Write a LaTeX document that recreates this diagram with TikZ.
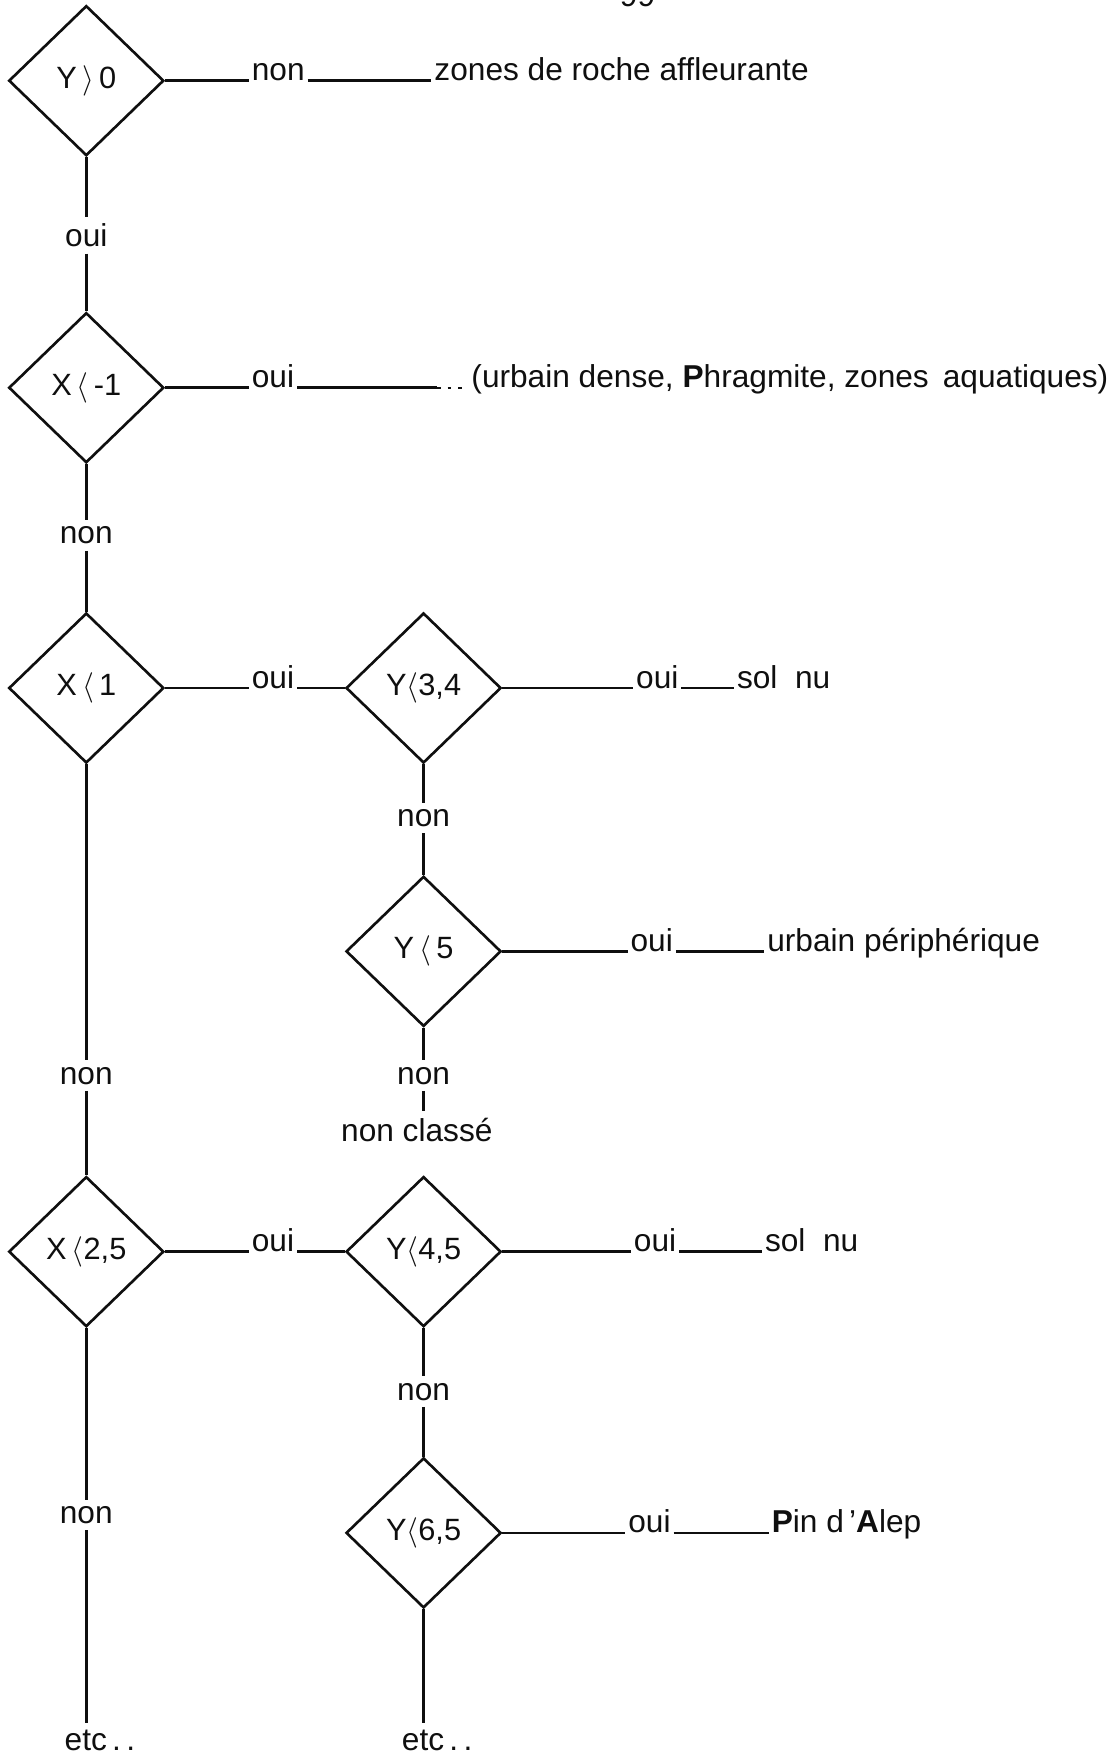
\documentclass[tikz,border=0pt]{standalone}
\usepackage{fontspec}
\setmainfont{Liberation Sans}
\usepackage{tikz}
\usetikzlibrary{shapes.geometric, calc}
\definecolor{inkblack}{RGB}{15, 15, 15}

\begin{document}
\begin{tikzpicture}[x=0.0224cm, y=-0.0224cm, line width=1.5pt, color=inkblack,
    test/.style={diamond, draw, minimum width=3.1cm, minimum height=3.0cm, inner sep=0pt, font=\fontsize{17.5}{20}\selectfont},
    lbl/.style={inner xsep=1pt, inner ysep=3pt, font=\fontsize{18}{21}\selectfont}]
    \useasboundingbox (0,0) rectangle (994,1568);

    \node[lbl, anchor=base] (pg) at (569,6) {99};

    % tests on X and Y
    \node[test] (t1) at (77,72) {Y\,$\rangle$\,0};
    \node[test] (t2) at (77,346) {X\,$\langle$\,-1};
    \node[test] (t3) at (77,614) {X\,$\langle$\,1};
    \node[test] (t4) at (378,614) {Y$\langle$3,4};
    \node[test] (t5) at (378,849) {Y\,$\langle$\,5};
    \node[test] (t6) at (77,1117) {X\,$\langle$2,5};
    \node[test] (t7) at (378,1117) {Y$\langle$4,5};
    \node[test] (t8) at (378,1368) {Y$\langle$6,5};

    % answers to the right
    \node[lbl, anchor=base west] (n1) at (222,72) {non};
    \node[lbl, anchor=base west] (r1) at (385,72) {zones de roche affleurante};
    \node[lbl, anchor=base west] (o2) at (222,346) {oui};
    \coordinate (dots2) at (390,346);
    \node[lbl, anchor=base west] (r2) at (418,346) {(urbain dense, \textbf{P}hragmite, zones \,aquatiques)};
    \node[lbl, anchor=base west] (o3) at (222,614) {oui};
    \node[lbl, anchor=base west] (o4) at (565,614) {oui};
    \node[lbl, anchor=base west] (r4) at (655,614) {sol\ \ nu};
    \node[lbl, anchor=base west] (o5) at (560,849) {oui};
    \node[lbl, anchor=base west] (r5) at (682,849) {urbain périphérique};
    \node[lbl, anchor=base west] (o6) at (222,1117) {oui};
    \node[lbl, anchor=base west] (o7) at (563,1117) {oui};
    \node[lbl, anchor=base west] (r7) at (680,1117) {sol\ \ nu};
    \node[lbl, anchor=base west] (o8) at (558,1368) {oui};
    \node[lbl, anchor=base west] (r8) at (686,1368) {\textbf{P}in d\,'\textbf{A}lep};

    % answers below
    \node[lbl] (v1) at (77,210) {oui};
    \node[lbl] (v2) at (77,478) {non};
    \node[lbl] (v3) at (77,960) {non};
    \node[lbl] (v4) at (378,730) {non};
    \node[lbl] (v5) at (378,960) {non};
    \node[lbl] (c5) at (372,1008) {non classé};
    \node[lbl] (v6) at (77,1352) {non};
    \node[lbl] (v7) at (378,1242) {non};
    \node[lbl, anchor=base west] (e6) at (55,1562) {etc\,.\,.};
    \node[lbl, anchor=base west] (e8) at (356,1562) {etc\,.\,.};

    \draw (t1.east) -- (n1.base west);
    \draw (n1.base east) -- (r1.base west);
    \draw (t2.east) -- (o2.base west);
    \draw (o2.base east) -- (dots2);
    \draw[line width=1pt, dash pattern=on 2pt off 4pt] (dots2) -- (r2.base west);
    \draw (t3.east) -- (o3.base west);
    \draw (o3.base east) -- (t4.west);
    \draw (t4.east) -- (o4.base west);
    \draw (o4.base east) -- (r4.base west);
    \draw (t5.east) -- (o5.base west);
    \draw (o5.base east) -- (r5.base west);
    \draw (t6.east) -- (o6.base west);
    \draw (o6.base east) -- (t7.west);
    \draw (t7.east) -- (o7.base west);
    \draw (o7.base east) -- (r7.base west);
    \draw (t8.east) -- (o8.base west);
    \draw (o8.base east) -- (r8.base west);

    \draw (t1.south) -- (v1.north);
    \draw (v1.south) -- (t2.north);
    \draw (t2.south) -- (v2.north);
    \draw (v2.south) -- (t3.north);
    \draw (t3.south) -- (v3.north);
    \draw (v3.south) -- (t6.north);
    \draw (t4.south) -- (v4.north);
    \draw (v4.south) -- (t5.north);
    \draw (t5.south) -- (v5.north);
    \draw (v5.south) -- (v5.south |- c5.north);
    \draw (t6.south) -- (v6.north);
    \draw (v6.south) -- (v6.south |- e6.north);
    \draw (t7.south) -- (v7.north);
    \draw (v7.south) -- (t8.north);
    \draw (t8.south) -- (t8.south |- e8.north);
\end{tikzpicture}
\end{document}
